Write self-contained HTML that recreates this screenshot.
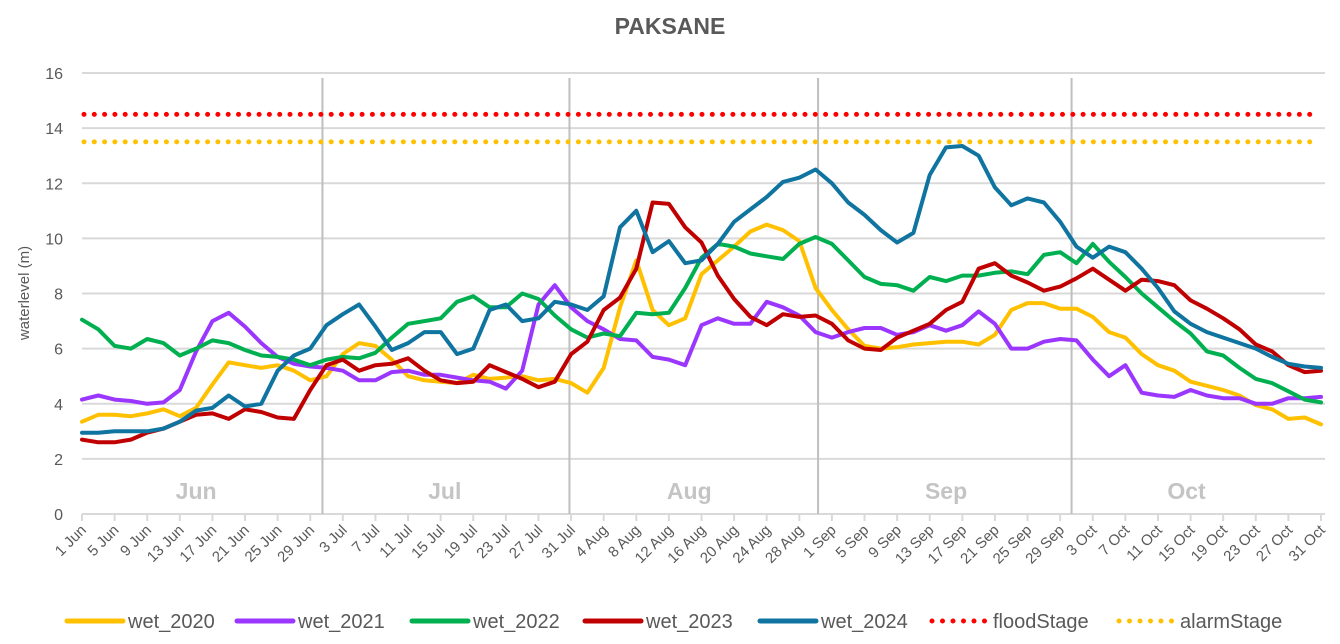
<!DOCTYPE html>
<html><head><meta charset="utf-8"><style>
body{margin:0;background:#fff;}
svg{display:block;font-family:"Liberation Sans",Arial,sans-serif;}
</style></head><body>
<svg id="chart" width="1340" height="644" viewBox="0 0 1340 644">
<text x="670" y="34" text-anchor="middle" font-size="23" font-weight="bold" fill="#595959">PAKSANE</text>
<text transform="translate(29,293) rotate(-90)" text-anchor="middle" font-size="15" fill="#595959">waterlevel (m)</text>
<g id="grid"></g>
<g id="yticks"></g>
<g id="xticks"></g>
<g id="months"></g>
<g id="series"></g>
<g id="legend"></g>
</svg>
<script>
const yTicks=[0,2,4,6,8,10,12,14,16];
const tickLabels=["1 Jun","5 Jun","9 Jun","13 Jun","17 Jun","21 Jun","25 Jun","29 Jun","3 Jul","7 Jul","11 Jul","15 Jul","19 Jul","23 Jul","27 Jul","31 Jul","4 Aug","8 Aug","12 Aug","16 Aug","20 Aug","24 Aug","28 Aug","1 Sep","5 Sep","9 Sep","13 Sep","17 Sep","21 Sep","25 Sep","29 Sep","3 Oct","7 Oct","11 Oct","15 Oct","19 Oct","23 Oct","27 Oct","31 Oct"];
const monthNames=["Jun","Jul","Aug","Sep","Oct"];
const monthCenterDays=[14,44.5,74.5,106,135.5];
const monthBoundaryDays=[29.5,59.8,90.3,121.4];
const dayStep=2;
const floodStage=14.5;
const alarmStage=13.5;
const wet_2020=[3.35,3.6,3.6,3.55,3.65,3.8,3.55,3.85,4.7,5.5,5.4,5.3,5.4,5.2,4.85,5.0,5.8,6.2,6.1,5.6,5.0,4.85,4.8,4.75,5.05,4.9,4.95,5.0,4.85,4.9,4.75,4.4,5.3,7.5,9.2,7.4,6.85,7.1,8.7,9.2,9.7,10.25,10.5,10.3,9.9,8.2,7.4,6.7,6.1,6.0,6.05,6.15,6.2,6.25,6.25,6.15,6.5,7.4,7.65,7.65,7.45,7.45,7.15,6.6,6.4,5.8,5.4,5.2,4.8,4.65,4.5,4.3,3.95,3.8,3.45,3.5,3.25];
const wet_2021=[4.15,4.3,4.15,4.1,4.0,4.05,4.5,5.9,7.0,7.3,6.8,6.2,5.7,5.45,5.35,5.3,5.2,4.85,4.85,5.15,5.2,5.05,5.05,4.95,4.85,4.8,4.55,5.2,7.6,8.3,7.5,7.0,6.7,6.35,6.3,5.7,5.6,5.4,6.85,7.1,6.9,6.9,7.7,7.5,7.2,6.6,6.4,6.6,6.75,6.75,6.5,6.6,6.85,6.65,6.85,7.35,6.9,6.0,6.0,6.25,6.35,6.3,5.6,5.0,5.4,4.4,4.3,4.25,4.5,4.3,4.2,4.2,4.0,4.0,4.2,4.2,4.25];
const wet_2022=[7.05,6.7,6.1,6.0,6.35,6.2,5.75,6.0,6.3,6.2,5.95,5.75,5.7,5.6,5.4,5.6,5.7,5.65,5.85,6.4,6.9,7.0,7.1,7.7,7.9,7.5,7.5,8.0,7.8,7.2,6.7,6.4,6.55,6.45,7.3,7.25,7.3,8.2,9.3,9.8,9.7,9.45,9.35,9.25,9.8,10.05,9.8,9.2,8.6,8.35,8.3,8.1,8.6,8.45,8.65,8.65,8.75,8.8,8.7,9.4,9.5,9.1,9.8,9.15,8.6,8.0,7.5,7.0,6.55,5.9,5.75,5.3,4.9,4.75,4.45,4.15,4.05];
const wet_2023=[2.7,2.6,2.6,2.7,2.95,3.1,3.35,3.6,3.65,3.45,3.8,3.7,3.5,3.45,4.5,5.4,5.6,5.2,5.4,5.45,5.65,5.2,4.85,4.75,4.8,5.4,5.15,4.9,4.6,4.8,5.8,6.25,7.4,7.85,8.9,11.3,11.25,10.4,9.85,8.65,7.8,7.15,6.85,7.25,7.15,7.2,6.9,6.3,6.0,5.95,6.4,6.65,6.9,7.4,7.7,8.9,9.1,8.65,8.4,8.1,8.25,8.55,8.9,8.5,8.1,8.5,8.45,8.3,7.75,7.45,7.1,6.7,6.15,5.9,5.4,5.15,5.2];
const wet_2024=[2.95,2.95,3.0,3.0,3.0,3.1,3.35,3.75,3.85,4.3,3.9,4.0,5.2,5.75,6.0,6.85,7.25,7.6,6.8,5.95,6.2,6.6,6.6,5.8,6.0,7.4,7.6,7.0,7.1,7.7,7.6,7.4,7.9,10.4,11.0,9.5,9.9,9.1,9.2,9.8,10.6,11.05,11.5,12.05,12.2,12.5,12.0,11.3,10.85,10.3,9.85,10.2,12.3,13.3,13.35,13.0,11.85,11.2,11.45,11.3,10.6,9.7,9.3,9.7,9.5,8.9,8.2,7.35,6.9,6.6,6.4,6.2,6.0,5.7,5.45,5.35,5.3];
const seriesNames=["wet_2020","wet_2021","wet_2022","wet_2023","wet_2024"];
const seriesValues=[wet_2020,wet_2021,wet_2022,wet_2023,wet_2024];
const colors=["#FFC000","#9B36FF","#00B050","#C00000","#0F74A0"];

const NS="http://www.w3.org/2000/svg";
const X0=82,X1=1321,Y0=514,Y1=73,NDAYS=152;
const xs=d=>X0+(X1-X0)*d/NDAYS;
const ys=v=>Y0-(Y0-Y1)*v/16;
function mk(tag,attrs,parent){const e=document.createElementNS(NS,tag);for(const k in attrs)e.setAttribute(k,attrs[k]);parent.appendChild(e);return e;}
const grid=document.getElementById('grid'),yt=document.getElementById('yticks'),xt=document.getElementById('xticks'),mo=document.getElementById('months'),se=document.getElementById('series'),lg=document.getElementById('legend');
yTicks.forEach(v=>{
  const l=mk('line',{x1:X0,x2:1325,y1:ys(v),y2:ys(v),stroke:'#d9d9d9','stroke-width':2},grid);
  
  
  const t=mk('text',{x:63,y:ys(v)+6,'text-anchor':'end','font-size':16,fill:'#595959'},yt);
  t.textContent=v;
  
  
});
monthBoundaryDays.forEach(d=>{
  const l=mk('line',{x1:xs(d),x2:xs(d),y1:Y1+5,y2:Y0,stroke:'#bfbfbf','stroke-width':2},grid);
  
  
});
monthNames.forEach((m,i)=>{
  const t=mk('text',{x:xs(monthCenterDays[i]),y:499,'text-anchor':'middle','font-size':23,'font-weight':'bold',fill:'#c4c4c4'},mo);
  t.textContent=m;
  
  
});
tickLabels.forEach((lab,i)=>{
  const x=xs(i*4);
  const tk=mk('line',{x1:x,x2:x,y1:Y0,y2:Y0+7,stroke:'#d9d9d9','stroke-width':2},xt);
  
  
  const t=mk('text',{transform:`translate(${x+5},${Y0+17}) rotate(-45)`,'text-anchor':'end','font-size':15,fill:'#595959'},xt);
  t.textContent=lab;
  
  
});
[[floodStage,'#FF0000','flood-stage-line'],[alarmStage,'#FFC000','alarm-stage-line']].forEach(s=>{
  const l=mk('line',{x1:X0+2,x2:1320,y1:ys(s[0]),y2:ys(s[0]),stroke:s[1],'stroke-width':5,'stroke-linecap':'round','stroke-dasharray':'0 10.3'},se);
  
  
});
seriesValues.forEach((vals,si)=>{
  let d='';let pen=false;
  vals.forEach((v,i)=>{if(v==null){pen=false;return;}d+=(pen?'L':'M')+xs(i*dayStep).toFixed(1)+','+ys(v).toFixed(1);pen=true;});
  const p=mk('path',{d:d,fill:'none',stroke:colors[si],'stroke-width':4,'stroke-linejoin':'round','stroke-linecap':'round'},se);
  
  
});
const legendItems=[["wet_2020",colors[0],false,65],["wet_2021",colors[1],false,235],["wet_2022",colors[2],false,410],["wet_2023",colors[3],false,583],["wet_2024",colors[4],false,758],["floodStage","#FF0000",true,930],["alarmStage","#FFC000",true,1117]];
legendItems.forEach(it=>{
  const g=mk('g',{},lg);
  
  
  const a=it[2]?{'stroke-dasharray':'0 10.5','stroke-width':5}:{'stroke-width':5};
  const l=mk('line',Object.assign({x1:it[3]+2,x2:it[3]+58,y1:621,y2:621,stroke:it[1],'stroke-linecap':'round'},a),g);
  
  
  const t=mk('text',{x:it[3]+63,y:628,'font-size':20,fill:'#595959'},g);
  t.textContent=it[0];
  
  
});
</script>
</body></html>
